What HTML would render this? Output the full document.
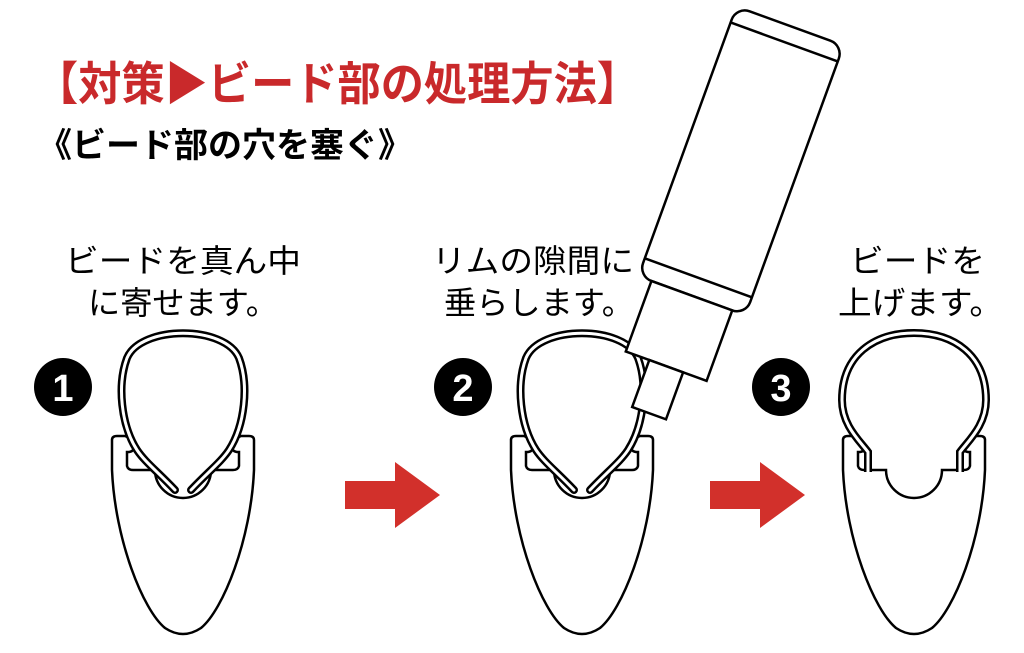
<!DOCTYPE html>
<html><head><meta charset="utf-8"><style>
html,body{margin:0;padding:0;background:#fff;}
svg{display:block;}
text{font-family:"Liberation Sans","Noto Sans CJK JP",sans-serif;}
</style></head><body>
<svg width="1024" height="653" viewBox="0 0 1024 653" xmlns="http://www.w3.org/2000/svg">
<defs>
<g id="rim">
<path d="M-71,440 Q-71,436 -66,436 L-58,436 Q-52,438 -50,446 Q-48,451 -54,452 L-56,452 L-56,466 Q-55,470 -50,470 L-28,470 A28,28 0 0 0 28,470 L50,470 Q55,470 56,466 L56,452 L54,452 Q48,451 50,446 Q52,438 58,436 L66,436 Q71,436 71,440 L71,470 C68,540 40,610 18,628 Q0,640 -18,628 C-40,610 -68,540 -71,470 Z" fill="#fff" stroke="#000" stroke-width="2.5"/>
</g>
<path id="t1" d="M-8,490 C-25,472 -38,462 -46,450 C-62,425 -66,385 -56,358 C-42,325 42,325 56,358 C66,385 62,425 46,450 C38,462 25,472 8,490"/>
</defs>

<text x="35" y="100" font-size="46" font-weight="bold" fill="#c9292b" textLength="605" lengthAdjust="spacingAndGlyphs">【対策▶ビード部の処理方法】</text>
<text x="38" y="157" font-size="34" font-weight="bold" fill="#000" textLength="374" lengthAdjust="spacingAndGlyphs">《ビード部の穴を塞ぐ》</text>

<text x="65" y="272" font-size="32" fill="#000" textLength="236" lengthAdjust="spacingAndGlyphs">ビードを真ん中</text>
<text x="88" y="314" font-size="32" fill="#000" textLength="190" lengthAdjust="spacingAndGlyphs">に寄せます。</text>
<text x="432" y="272" font-size="32" fill="#000" textLength="202" lengthAdjust="spacingAndGlyphs">リムの隙間に</text>
<text x="444" y="314" font-size="32" fill="#000" textLength="190" lengthAdjust="spacingAndGlyphs">垂らします。</text>
<text x="850" y="272" font-size="32" fill="#000" textLength="135" lengthAdjust="spacingAndGlyphs">ビードを</text>
<text x="838" y="314" font-size="32" fill="#000" textLength="165" lengthAdjust="spacingAndGlyphs">上げます。</text>

<g font-size="38" font-weight="bold" fill="#fff" text-anchor="middle">
<circle cx="63" cy="387" r="29" fill="#000"/><text x="63" y="401">1</text>
<circle cx="463" cy="387" r="29" fill="#000"/><text x="463" y="401">2</text>
<circle cx="781" cy="387" r="29" fill="#000"/><text x="781" y="401">3</text>
</g>

<g transform="translate(183,0)">
<use href="#rim"/>
<use href="#t1" fill="none" stroke="#000" stroke-width="8" stroke-linecap="round"/>
<use href="#t1" fill="none" stroke="#fff" stroke-width="3" stroke-linecap="round"/>
</g>

<g transform="translate(582,0)">
<use href="#rim"/>
<use href="#t1" fill="none" stroke="#000" stroke-width="8" stroke-linecap="round"/>
<use href="#t1" fill="none" stroke="#fff" stroke-width="3" stroke-linecap="round"/>
</g>

<g transform="translate(914,0)">
<use href="#rim"/>
<g fill="none">
<path d="M-46,472 L-46,452 C-55,440 -72,425 -72,400 C-72,355 -40,333 0,333 C40,333 72,355 72,400 C72,425 55,440 46,452 L46,472" stroke="#000" stroke-width="8"/>
<path d="M-46,472 L-46,452 C-55,440 -72,425 -72,400 C-72,355 -40,333 0,333 C40,333 72,355 72,400 C72,425 55,440 46,452 L46,472" stroke="#fff" stroke-width="3"/>
</g>
</g>

<g transform="translate(790,26) rotate(20)" fill="#fff" stroke="#000" stroke-width="2.5">
<rect x="-57" y="0" width="114" height="287" rx="14"/>
<line x1="-57" y1="17" x2="57" y2="17"/>
<line x1="-57" y1="268" x2="57" y2="268"/>
<rect x="-43" y="287" width="86" height="75"/>
<rect x="-18" y="362" width="36" height="50"/>
</g>

<path d="M345,481 L395,481 L395,462 L440,495 L395,528 L395,509 L345,509 Z" fill="#d2302b"/>
<path d="M710,481 L760,481 L760,462 L805,495 L760,528 L760,509 L710,509 Z" fill="#d2302b"/>
</svg>
</body></html>
